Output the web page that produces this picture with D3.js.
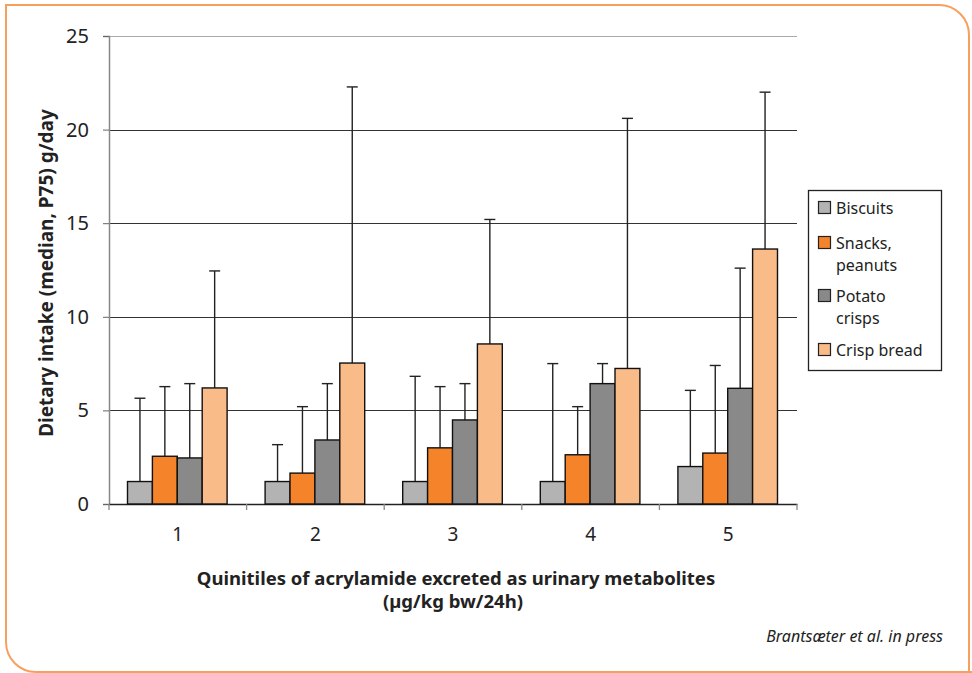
<!DOCTYPE html>
<html>
<head>
<meta charset="utf-8">
<script src="https://cdn.jsdelivr.net/npm/d3@7"></script>
<style>
  body { margin: 0; background: #fff; }
  text { font-family: "Noto Sans", "Open Sans", sans-serif; fill: #222; }
</style>
</head>
<body>
<div id="plotDiv"></div>
<script>
var quintiles = ["1", "2", "3", "4", "5"];
var foods = ["Biscuits", "Snacks, peanuts", "Potato crisps", "Crisp bread"];
var foodLines = [["Biscuits"], ["Snacks,", "peanuts"], ["Potato", "crisps"], ["Crisp bread"]];
var colors = ["#b3b3b3", "#f5832a", "#898989", "#f9bb88"];

// median intake per quintile, one array per food
var medianBiscuits = [1.2, 1.2, 1.2, 1.2, 2.0];
var medianSnacks = [2.55, 1.65, 3.0, 2.63, 2.72];
var medianCrisps = [2.46, 3.42, 4.49, 6.43, 6.18];
var medianBread = [6.2, 7.53, 8.55, 7.24, 13.62];
// P75 per quintile
var p75Biscuits = [5.65, 3.17, 6.82, 7.5, 6.07];
var p75Snacks = [6.27, 5.2, 6.27, 5.2, 7.4];
var p75Crisps = [6.43, 6.43, 6.43, 7.5, 12.6];
var p75Bread = [12.45, 22.28, 15.2, 20.6, 22.0];
var yTicks = [0, 5, 10, 15, 20, 25];

var medians = [medianBiscuits, medianSnacks, medianCrisps, medianBread];
var p75s = [p75Biscuits, p75Snacks, p75Crisps, p75Bread];

var rows = [];
quintiles.forEach(function (q, i) {
    foods.forEach(function (f, j) {
        rows.push({ q: q, food: f, k: j, median: medians[j][i], p75: p75s[j][i] });
    });
});

var W = 972, H = 673;
var margin = { top: 36, right: 175, bottom: 169, left: 109 };
var width = W - margin.left - margin.right;
var height = H - margin.top - margin.bottom;

var svg = d3.select("#plotDiv").append("svg")
    .attr("width", W).attr("height", H);

// orange frame, rounded top-right and bottom-left
var bl = 6, bt = 5, br = 969, bb = 672, r = 30;
svg.append("path")
    .attr("d", "M" + br + "," + (H + 5) + " L" + br + "," + (bt + r) +
        " A" + r + "," + r + " 0 0 0 " + (br - r) + "," + bt +
        " L" + bl + "," + bt + " L" + bl + "," + (bb - r) +
        " A" + r + "," + r + " 0 0 0 " + (bl + r) + "," + bb +
        " L" + (W + 5) + "," + bb)
    .attr("fill", "none").attr("stroke", "#f7a05e").attr("stroke-width", 2);

var g = svg.append("g").attr("transform", "translate(" + margin.left + "," + margin.top + ")");

var x0 = d3.scaleBand().domain(quintiles).range([0, width]).padding(0);
var x1 = d3.scaleBand().domain(foods).range([18.5, x0.bandwidth() - 19.5]).padding(0);
var y = d3.scaleLinear().domain([0, 25]).range([height, 0]);

// gridlines
g.selectAll(".grid").data(yTicks.slice(1)).enter().append("line")
    .attr("x1", 0).attr("x2", width)
    .attr("y1", function (d) { return Math.round(y(d)) + 0.5; })
    .attr("y2", function (d) { return Math.round(y(d)) + 0.5; })
    .attr("stroke", function (d) { return d === 25 ? "#aaa" : "#333"; })
    .attr("stroke-width", 1);

// y axis
var yAxis = g.append("g").call(d3.axisLeft(y).tickValues(yTicks).tickSize(6).tickPadding(14));
yAxis.select(".domain").attr("stroke", "#888").attr("stroke-width", 1.5);
yAxis.selectAll(".tick line").attr("stroke", "#666");
yAxis.selectAll("text").attr("font-size", 20).attr("fill", "#222")
    .attr("font-family", "Noto Sans");

// x axis
var xAxis = g.append("g").attr("transform", "translate(0," + height + ")")
    .call(d3.axisBottom(x0).tickSize(0).tickPadding(24));
xAxis.select(".domain").attr("stroke", "#222").attr("stroke-width", 1.5);
xAxis.selectAll("text").attr("font-size", 19).attr("fill", "#222")
    .attr("font-family", "Noto Sans");
g.selectAll(".xsep").data(d3.range(quintiles.length + 1)).enter().append("line")
    .attr("x1", function (i) { return i * x0.bandwidth(); })
    .attr("x2", function (i) { return i * x0.bandwidth(); })
    .attr("y1", height).attr("y2", height + 6)
    .attr("stroke", "#888").attr("stroke-width", 1.3);

// error bars (drawn under bars)
var capW = 11;
g.selectAll(".err").data(rows).enter().append("g").each(function (d) {
    var cx = x0(d.q) + x1(d.food) + x1.bandwidth() / 2;
    var s = d3.select(this);
    s.append("line").attr("x1", cx).attr("x2", cx)
        .attr("y1", y(d.median)).attr("y2", y(d.p75))
        .attr("stroke", "#222").attr("stroke-width", 1.4);
    s.append("line").attr("x1", cx - capW / 2).attr("x2", cx + capW / 2)
        .attr("y1", y(d.p75)).attr("y2", y(d.p75))
        .attr("stroke", "#222").attr("stroke-width", 1.4);
});

// bars
g.selectAll(".bar").data(rows).enter().append("rect")
    .attr("x", function (d) { return x0(d.q) + x1(d.food); })
    .attr("y", function (d) { return y(d.median); })
    .attr("width", x1.bandwidth())
    .attr("height", function (d) { return height - y(d.median); })
    .attr("fill", function (d) { return colors[d.k]; })
    .attr("stroke", "#111").attr("stroke-width", 1.4);

// axis titles
svg.append("text")
    .attr("transform", "translate(53," + (margin.top + height / 2 + 3) + ") rotate(-90)")
    .attr("text-anchor", "middle").attr("font-size", 19).attr("font-weight", "bold")
    .text("Dietary intake (median, P75) g/day");

svg.append("text").attr("x", margin.left + width / 2 + 3).attr("y", 585)
    .attr("text-anchor", "middle").attr("font-size", 18.5).attr("font-weight", "bold")
    .text("Quinitiles of acrylamide excreted as urinary metabolites");
svg.append("text").attr("x", margin.left + width / 2).attr("y", 608)
    .attr("text-anchor", "middle").attr("font-size", 18.5).attr("font-weight", "bold")
    .text("(\u00b5g/kg bw/24h)");

svg.append("text").attr("x", 943).attr("y", 642)
    .attr("text-anchor", "end").attr("font-size", 16).attr("font-style", "italic")
    .text("Brantsæter et al. in press");

// legend
var leg = svg.append("g").attr("transform", "translate(808,190)");
leg.append("rect").attr("x", 0.5).attr("y", 0.5).attr("width", 133).attr("height", 180)
    .attr("fill", "#fff").attr("stroke", "#222").attr("stroke-width", 1.3);
var itemY = [18, 53, 106, 160];
foods.forEach(function (f, j) {
    var it = leg.append("g").attr("transform", "translate(0," + itemY[j] + ")");
    it.append("rect").attr("x", 10.5).attr("y", -6.5).attr("width", 12).attr("height", 12)
        .attr("fill", colors[j]).attr("stroke", "#222").attr("stroke-width", 1.2);
    var t = it.append("text").attr("x", 28).attr("y", 6).attr("font-size", 16);
    foodLines[j].forEach(function (line, li) {
        t.append("tspan").attr("x", 28).attr("dy", li === 0 ? 0 : 22).text(line);
    });
});
</script>
</body>
</html>
